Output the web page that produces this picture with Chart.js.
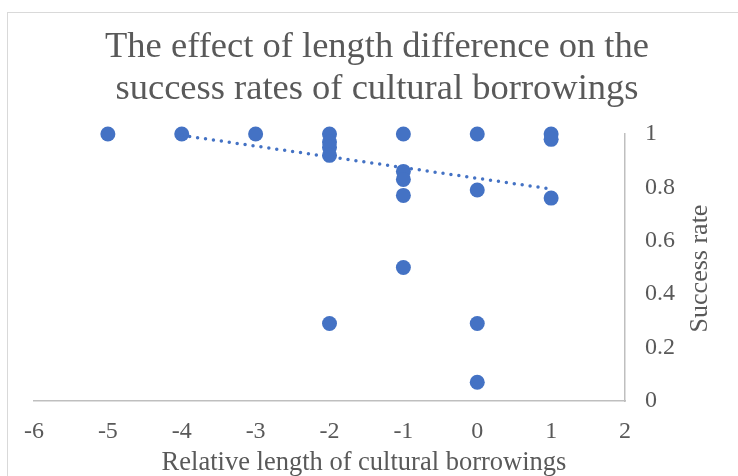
<!DOCTYPE html>
<html>
<head>
<meta charset="utf-8">
<title>Length difference vs success rate</title>
<script src="https://cdn.jsdelivr.net/npm/chart.js@4/dist/chart.umd.min.js"></script>
<style>
  html, body { margin: 0; padding: 0; background: #fff; overflow: hidden; }
  #wrap { position: relative; width: 738px; height: 476px; }
  #frame { position: absolute; left: 7px; top: 12px; width: 800px; height: 600px;
           border: 1px solid #d9d9d9; box-sizing: border-box; }
  #chart { position: absolute; left: 0; top: 0; }
</style>
</head>
<body>
<div id="wrap">
  <div id="frame"></div>
  <canvas id="chart" width="738" height="476"></canvas>
</div>
<script>
// Relative length of each borrowing (x) and its success rate (y)
const lengthDiff = [-5, -4, -3, -2, -2, -2, -2, -2, -1, -1, -1, -1, -1, 0, 0, 0, 0, 1, 1, 1];
const successRate = [1, 1, 1, 1, 0.97, 0.95, 0.92, 0.29, 1, 0.86, 0.83, 0.77, 0.5, 1, 0.79, 0.29, 0.07, 1, 0.98, 0.76];

// Linear trendline endpoints
const trendX = [-4, 1];
const trendY = [0.995, 0.794];

// Axis labels
const chartTitle = ['The effect of length difference on the', 'success rates of cultural borrowings'];
const xTitle = 'Relative length of cultural borrowings';
const yTitle = 'Success rate';

const FONT = "'Liberation Serif', 'Times New Roman', serif";
const TEXT = '#595959';
const AXIS = '#bfbfbf';
const BLUE = '#4472c4';

const points = lengthDiff.map((x, i) => ({ x: x, y: successRate[i] }));
const trend = trendX.map((x, i) => ({ x: x, y: trendY[i] }));

// Excel style axis titles: x centred under the chart, y reading bottom to top
const axisTitles = {
    id: 'axisTitles',
    afterDraw(chart) {
        const ctx = chart.ctx;
        const area = chart.chartArea;
        ctx.save();
        ctx.fillStyle = TEXT;
        ctx.font = '26.5px ' + FONT;
        ctx.textAlign = 'center';
        ctx.textBaseline = 'middle';
        ctx.fillText(xTitle, 364, 463);
        ctx.font = '26px ' + FONT;
        ctx.translate(700, (area.top + area.bottom) / 2 + 1);
        ctx.rotate(-Math.PI / 2);
        ctx.fillText(yTitle, 0, 0);
        ctx.restore();
    }
};

new Chart(document.getElementById('chart'), {
    type: 'scatter',
    data: {
        datasets: [
            {
                type: 'line',
                label: 'Linear trend',
                data: trend,
                borderColor: BLUE,
                borderWidth: 3.5,
                borderDash: [0, 8],
                borderCapStyle: 'round',
                pointRadius: 0,
                fill: false,
                clip: false,
                order: 0
            },
            {
                label: 'Success rate',
                data: points,
                backgroundColor: BLUE,
                borderWidth: 0,
                pointRadius: 7.5,
                pointHoverRadius: 7.5,
                clip: false,
                order: 1
            }
        ]
    },
    options: {
        responsive: false,
        animation: false,
        layout: { padding: { left: 34, right: 18, top: 0, bottom: 0 } },
        plugins: {
            legend: { display: false },
            tooltip: { enabled: false },
            title: {
                display: true,
                text: chartTitle,
                color: TEXT,
                font: { family: FONT, size: 36.5, weight: 'normal', lineHeight: 42 / 36.5 },
                padding: { top: 26, bottom: 24 }
            }
        },
        scales: {
            x: {
                type: 'linear',
                min: -6,
                max: 2,
                grid: { display: false, drawTicks: false },
                border: { display: true, color: AXIS, width: 1.5 },
                ticks: {
                    stepSize: 1,
                    padding: 16,
                    color: TEXT,
                    font: { family: FONT, size: 24 }
                },
                afterFit(scale) { scale.height = 75; }
            },
            y: {
                position: 'right',
                min: 0,
                max: 1,
                grid: { display: false, drawTicks: false },
                border: { display: true, color: AXIS, width: 1.5 },
                ticks: {
                    stepSize: 0.2,
                    padding: 20,
                    color: TEXT,
                    font: { family: FONT, size: 24 },
                    callback: value => String(Number(value.toFixed(1)))
                },
                afterFit(scale) { scale.width = 95; }
            }
        }
    },
    plugins: [axisTitles]
});
</script>
</body>
</html>
